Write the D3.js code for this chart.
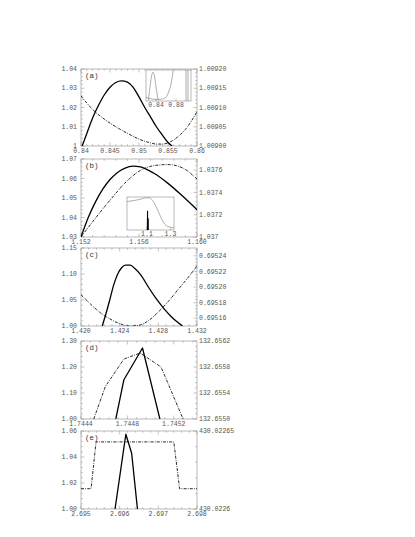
<!DOCTYPE html>
<html lang="en">
<head>
<meta charset="UTF-8">
<title>Stacked panels</title>
<style>
  body, html { margin: 0; background: #fff; overflow: hidden; }
  text { font-family: "Liberation Mono", "DejaVu Sans Mono", monospace; }
</style>
</head>
<body>
<script src="https://d3js.org/d3.v7.min.js"></script>
<script>
// ---- data ----
// panel (a)
const xTicksA = [0.84, 0.845, 0.85, 0.855, 0.86];
const xLabelsA = ["0.84", "0.845", "0.85", "0.855", "0.86"];
const yLeftTicksA = [1, 1.01, 1.02, 1.03, 1.04];
const yLeftLabelsA = ["1", "1.01", "1.02", "1.03", "1.04"];
const yRightTicksA = [1.009, 1.00905, 1.0091, 1.00915, 1.0092];
const yRightLabelsA = ["1.00900", "1.00905", "1.00910", "1.00915", "1.00920"];
const solidA = [[0.8402, 1.0], [0.841, 1.0065], [0.842, 1.0145], [0.843, 1.021], [0.844, 1.0265],
  [0.845, 1.0305], [0.846, 1.033], [0.847, 1.0338], [0.848, 1.0332], [0.849, 1.0305], [0.85, 1.0255],
  [0.851, 1.02], [0.852, 1.015], [0.853, 1.01], [0.854, 1.0058], [0.855, 1.0018], [0.8557, 1.0]];
const dashA = [[0.84, 1.00913], [0.842, 1.009095], [0.844, 1.00907], [0.846, 1.00905], [0.848, 1.009033],
  [0.85, 1.009018], [0.852, 1.009008], [0.853, 1.009005], [0.854, 1.009005], [0.855, 1.009008],
  [0.856, 1.009016], [0.857, 1.009028], [0.858, 1.009043], [0.859, 1.009064], [0.86, 1.009089]];
const insetTicksA = [0.84, 0.88];
const insetLabelsA = ["0.84", "0.88"];
const insetPeakA = [[0.8246, 0.02], [0.828, 0.45], [0.831, 0.8], [0.834, 0.93], [0.837, 0.8], [0.8405, 0.4], [0.8446, 0.02]];
const insetRiseA = [[0.82, 0.12], [0.83, 0.07], [0.84, 0.05], [0.85, 0.06], [0.86, 0.12], [0.865, 0.28], [0.87, 0.55], [0.8746, 1.0]];
const insetVertA = [0.9, 0.904];

// panel (b)
const xTicksB = [1.152, 1.156, 1.16];
const xLabelsB = ["1.152", "1.156", "1.160"];
const yLeftTicksB = [1.03, 1.04, 1.05, 1.06, 1.07];
const yLeftLabelsB = ["1.03", "1.04", "1.05", "1.06", "1.07"];
const yRightTicksB = [1.037, 1.0372, 1.0374, 1.0376];
const yRightLabelsB = ["1.037", "1.0372", "1.0374", "1.0376"];
const solidB = [[1.152, 1.03], [1.1525, 1.04], [1.153, 1.048], [1.1535, 1.0545], [1.154, 1.0595],
  [1.1545, 1.063], [1.155, 1.0652], [1.1556, 1.0663], [1.156, 1.0661], [1.157, 1.0628],
  [1.158, 1.0575], [1.159, 1.051], [1.16, 1.044]];
const dashB = [[1.152, 1.037], [1.153, 1.03717], [1.154, 1.03733], [1.155, 1.03748], [1.156, 1.03759],
  [1.157, 1.03764], [1.158, 1.03765], [1.159, 1.03762], [1.16, 1.03752]];
const insetTicksB = [1.1, 1.3];
const insetLabelsB = ["1.1", "1.3"];
const insetCurveB = [[0.93, 0.86], [1.0, 0.9], [1.04, 0.93], [1.08, 0.97], [1.11, 0.98], [1.14, 0.93],
  [1.17, 0.76], [1.21, 0.45], [1.25, 0.18], [1.3, 0.08], [1.33, 0.06]];
const insetSpikeB = [[1.102, 0], [1.105, 0.58], [1.107, 0], [1.109, 0.35], [1.111, 0]];

// panel (c)
const xTicksC = [1.42, 1.424, 1.428, 1.432];
const xLabelsC = ["1.420", "1.424", "1.428", "1.432"];
const yLeftTicksC = [1.0, 1.05, 1.1, 1.15];
const yLeftLabelsC = ["1.00", "1.05", "1.10", "1.15"];
const yRightTicksC = [0.69516, 0.69518, 0.6952, 0.69522, 0.69524];
const yRightLabelsC = ["0.69516", "0.69518", "0.69520", "0.69522", "0.69524"];
const solidC = [[1.4222, 1.0], [1.4226, 1.025], [1.423, 1.052], [1.4234, 1.08], [1.4238, 1.1],
  [1.4242, 1.112], [1.4246, 1.117], [1.4251, 1.117], [1.4256, 1.11], [1.4262, 1.098], [1.427, 1.074],
  [1.4278, 1.052], [1.4286, 1.033], [1.4294, 1.017], [1.43, 1.007], [1.4305, 1.0]];
const dashC = [[1.42, 0.69519], [1.421, 0.695178], [1.422, 0.695167], [1.423, 0.695159], [1.424, 0.695153],
  [1.425, 0.69515], [1.426, 0.695151], [1.427, 0.695157], [1.428, 0.695168], [1.429, 0.695181],
  [1.43, 0.695196], [1.431, 0.695211], [1.432, 0.695227]];

// panel (d)
const xTicksD = [1.7444, 1.7448, 1.7452];
const xLabelsD = ["1.7444", "1.7448", "1.7452"];
const yLeftTicksD = [1.0, 1.1, 1.2, 1.3];
const yLeftLabelsD = ["1.00", "1.10", "1.20", "1.30"];
const yRightTicksD = [132.655, 132.6554, 132.6558, 132.6562];
const yRightLabelsD = ["132.6550", "132.6554", "132.6558", "132.6562"];
const solidD = [[1.7447, 1.0], [1.74477, 1.151], [1.74493, 1.273], [1.74508, 1.0]];
const dashD = [[1.74451, 132.655], [1.74461, 132.6555], [1.74477, 132.655923], [1.74491, 132.656015],
  [1.74509, 132.6558], [1.74528, 132.655]];

// panel (e)
const xTicksE = [2.695, 2.696, 2.697, 2.698];
const xLabelsE = ["2.695", "2.696", "2.697", "2.698"];
const yLeftTicksE = [1.0, 1.02, 1.04, 1.06];
const yLeftLabelsE = ["1.00", "1.02", "1.04", "1.06"];
const yRightTicksE = [430.0226, 430.02265];
const yRightLabelsE = ["430.0226", "430.02265"];
const solidE = [[2.69588, 1.0], [2.69616, 1.0575], [2.69631, 1.0429], [2.69646, 1.0]];
const dashE = [[2.695, 430.022613], [2.69526, 430.022613], [2.69539, 430.022643], [2.6974, 430.022643],
  [2.69755, 430.022613], [2.698, 430.022613]];

// ---- layout ----
const width = 415, height = 537;
const left = 81, right = 197;

const panels = [
  { name: "(a)", top: 69, bottom: 146, xDom: [0.84, 0.86], ylDom: [1, 1.04], yrDom: [1.009, 1.0092],
    xT: xTicksA, xL: xLabelsA, ylT: yLeftTicksA, ylL: yLeftLabelsA, yrT: yRightTicksA, yrL: yRightLabelsA,
    solid: solidA, dash: dashA, smooth: true },
  { name: "(b)", top: 159, bottom: 237, xDom: [1.152, 1.16], ylDom: [1.03, 1.07], yrDom: [1.037, 1.0377],
    xT: xTicksB, xL: xLabelsB, ylT: yLeftTicksB, ylL: yLeftLabelsB, yrT: yRightTicksB, yrL: yRightLabelsB,
    solid: solidB, dash: dashB, smooth: true },
  { name: "(c)", top: 248, bottom: 326, xDom: [1.42, 1.432], ylDom: [1.0, 1.15], yrDom: [0.69515, 0.69525],
    xT: xTicksC, xL: xLabelsC, ylT: yLeftTicksC, ylL: yLeftLabelsC, yrT: yRightTicksC, yrL: yRightLabelsC,
    solid: solidC, dash: dashC, smooth: true },
  { name: "(d)", top: 341, bottom: 419, xDom: [1.7444, 1.7454], ylDom: [1.0, 1.3], yrDom: [132.655, 132.6562],
    xT: xTicksD, xL: xLabelsD, ylT: yLeftTicksD, ylL: yLeftLabelsD, yrT: yRightTicksD, yrL: yRightLabelsD,
    solid: solidD, dash: dashD, smooth: false },
  { name: "(e)", top: 431, bottom: 509, xDom: [2.695, 2.698], ylDom: [1.0, 1.06], yrDom: [430.0226, 430.02265],
    xT: xTicksE, xL: xLabelsE, ylT: yLeftTicksE, ylL: yLeftLabelsE, yrT: yRightTicksE, yrL: yRightLabelsE,
    solid: solidE, dash: dashE, smooth: false }
];

const frameColor = "#8a8a8a";
const labelColor = "#555";

const svg = d3.select("body").append("svg")
  .attr("width", width)
  .attr("height", height);

// minor ticks: 5 subdivisions of the major step, spread over the domain
function minorTicks(majors, dom) {
  const step = (majors[1] - majors[0]) / 5;
  const out = [];
  const lo = Math.min(dom[0], dom[1]), hi = Math.max(dom[0], dom[1]);
  const eps = step * 1e-3;
  for (let v = majors[0]; v <= hi + eps; v += step) out.push(v);
  for (let v = majors[0] - step; v >= lo - eps; v -= step) out.push(v);
  return out.filter(v => !majors.some(m => Math.abs(m - v) < eps));
}

panels.forEach((p, i) => {
  const x = d3.scaleLinear().domain(p.xDom).range([left, right]);
  const yl = d3.scaleLinear().domain(p.ylDom).range([p.bottom, p.top]);
  const yr = d3.scaleLinear().domain(p.yrDom).range([p.bottom, p.top]);

  const g = svg.append("g");

  g.append("clipPath").attr("id", "clip" + i)
    .append("rect")
    .attr("x", left).attr("y", p.top)
    .attr("width", right - left).attr("height", p.bottom - p.top);

  // frame
  g.append("rect")
    .attr("x", left).attr("y", p.top)
    .attr("width", right - left).attr("height", p.bottom - p.top)
    .attr("fill", "none")
    .attr("stroke", frameColor)
    .attr("stroke-width", 0.6);

  // ticks (inward, all four sides)
  const tk = g.append("g").attr("stroke", frameColor).attr("stroke-width", 0.5);
  const xMin = minorTicks(p.xT, p.xDom);
  [[p.xT, 3.5], [xMin, 1.8]].forEach(([vals, len]) => {
    vals.forEach(v => {
      tk.append("line").attr("x1", x(v)).attr("x2", x(v)).attr("y1", p.bottom).attr("y2", p.bottom - len);
      tk.append("line").attr("x1", x(v)).attr("x2", x(v)).attr("y1", p.top).attr("y2", p.top + len);
    });
  });
  [[p.ylT, 3.5], [minorTicks(p.ylT, p.ylDom), 1.8]].forEach(([vals, len]) => {
    vals.forEach(v => tk.append("line").attr("x1", left).attr("x2", left + len).attr("y1", yl(v)).attr("y2", yl(v)));
  });
  [[p.yrT, 3.5], [minorTicks(p.yrT, p.yrDom), 1.8]].forEach(([vals, len]) => {
    vals.forEach(v => tk.append("line").attr("x1", right).attr("x2", right - len).attr("y1", yr(v)).attr("y2", yr(v)));
  });

  // tick labels
  const lab = g.append("g").attr("font-size", 6.5).attr("fill", labelColor);
  p.xT.forEach((v, k) => lab.append("text")
    .attr("x", x(v)).attr("y", p.bottom + 6.5)
    .attr("text-anchor", "middle").text(p.xL[k]));
  p.ylT.forEach((v, k) => lab.append("text")
    .attr("x", left - 4).attr("y", yl(v) + 2.2)
    .attr("text-anchor", "end").text(p.ylL[k]));
  p.yrT.forEach((v, k) => lab.append("text")
    .attr("x", right + 2).attr("y", yr(v) + 2.2)
    .attr("text-anchor", "start").text(p.yrL[k]));

  // panel label
  g.append("text")
    .attr("x", left + 4).attr("y", p.top + 9)
    .attr("font-size", 7.5).attr("fill", "#333")
    .text(p.name);

  const curve = p.smooth ? d3.curveMonotoneX : d3.curveLinear;
  const plot = g.append("g").attr("clip-path", `url(#clip${i})`);

  plot.append("path")
    .datum(p.dash)
    .attr("fill", "none")
    .attr("stroke", "#111")
    .attr("stroke-width", 0.9)
    .attr("stroke-dasharray", "3,1.2,0.8,1.2")
    .attr("d", d3.line().curve(curve).x(d => x(d[0])).y(d => yr(d[1])));

  plot.append("path")
    .datum(p.solid)
    .attr("fill", "none")
    .attr("stroke", "#000")
    .attr("stroke-width", 1.3)
    .attr("stroke-linejoin", "round")
    .attr("d", d3.line().curve(curve).x(d => x(d[0])).y(d => yl(d[1])));

  p.xs = x;
});

// ---- insets ----
function inset(box, xDom, ticks, labels, grayLines, blackLines, verticals) {
  const ix = d3.scaleLinear().domain(xDom).range([box.x0, box.x1]);
  const iy = d3.scaleLinear().domain([0, 1]).range([box.y1, box.y0]);
  const g = svg.append("g");
  g.append("rect")
    .attr("x", box.x0).attr("y", box.y0)
    .attr("width", box.x1 - box.x0).attr("height", box.y1 - box.y0)
    .attr("fill", "#fff")
    .attr("stroke", frameColor).attr("stroke-width", 0.6);
  ticks.forEach((v, k) => {
    g.append("line").attr("x1", ix(v)).attr("x2", ix(v))
      .attr("y1", box.y1).attr("y2", box.y1 - 2.5)
      .attr("stroke", frameColor).attr("stroke-width", 0.5);
    g.append("text").attr("x", ix(v)).attr("y", box.y1 + 5.5)
      .attr("text-anchor", "middle").attr("font-size", 6.5).attr("fill", labelColor)
      .text(labels[k]);
  });
  const line = d3.line().curve(d3.curveMonotoneX).x(d => ix(d[0])).y(d => iy(d[1]));
  grayLines.forEach(data => g.append("path").datum(data)
    .attr("fill", "none").attr("stroke", "#777").attr("stroke-width", 0.6).attr("d", line));
  const lin = d3.line().x(d => ix(d[0])).y(d => iy(d[1]));
  blackLines.forEach(data => g.append("path").datum(data)
    .attr("fill", "none").attr("stroke", "#000").attr("stroke-width", 0.9).attr("d", lin));
  verticals.forEach(v => g.append("line")
    .attr("x1", ix(v)).attr("x2", ix(v)).attr("y1", box.y0).attr("y2", box.y1)
    .attr("stroke", "#777").attr("stroke-width", 0.6));
}

inset({ x0: 146, x1: 191, y0: 70, y1: 101 }, [0.82, 0.91], insetTicksA, insetLabelsA,
  [insetPeakA, insetRiseA], [], insetVertA);
inset({ x0: 127, x1: 174, y0: 197, y1: 230 }, [0.93, 1.33], insetTicksB, insetLabelsB,
  [insetCurveB], [insetSpikeB], []);
</script>
</body>
</html>
